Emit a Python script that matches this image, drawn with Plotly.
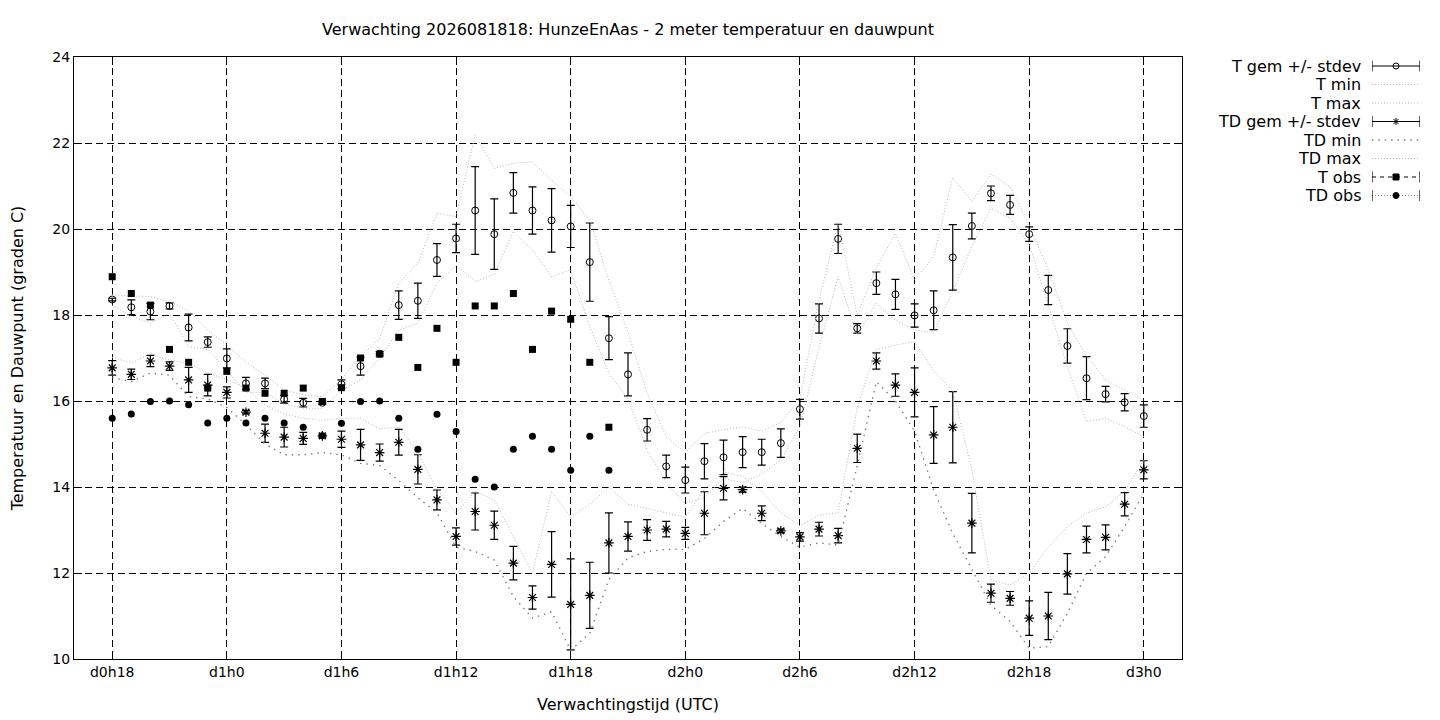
import plotly.graph_objects as go

# Forecast hours (d0h18 .. d3h0)
hours = list(range(18, 73))
tick_hours = [18, 24, 30, 36, 42, 48, 54, 60, 66, 72]
tick_labels = ["d0h18", "d1h0", "d1h6", "d1h12", "d1h18", "d2h0", "d2h6", "d2h12", "d2h18", "d3h0"]

# 2 m temperature ensemble
t_gem = [18.36, 18.18, 18.08, 18.21, 17.71, 17.37, 16.99, 16.41, 16.41, 16.04, 15.96, 15.96, 16.39, 16.81,
         17.10, 18.23, 18.33, 19.28, 19.78, 20.43, 19.88, 20.84, 20.43, 20.20, 20.06, 19.23, 17.46, 16.62,
         15.33, 14.48, 14.16, 14.60, 14.69, 14.81, 14.81, 15.02, 15.81, 17.92, 19.77, 17.69, 18.74, 18.48,
         17.99, 18.11, 19.34, 20.07, 20.83, 20.56, 19.88, 18.58, 17.28, 16.53, 16.16, 15.97, 15.65]
t_sd = [0.03, 0.17, 0.19, 0.07, 0.31, 0.12, 0.22, 0.14, 0.12, 0.09, 0.10, 0.04, 0.10, 0.21,
        0.05, 0.33, 0.41, 0.38, 0.33, 1.02, 0.82, 0.47, 0.55, 0.74, 0.49, 0.91, 0.50, 0.50,
        0.26, 0.26, 0.30, 0.41, 0.40, 0.36, 0.30, 0.33, 0.23, 0.34, 0.34, 0.11, 0.26, 0.35,
        0.27, 0.45, 0.76, 0.30, 0.17, 0.22, 0.17, 0.34, 0.40, 0.50, 0.18, 0.20, 0.26]
t_min = [18.23, 17.98, 17.81, 18.04, 17.26, 17.20, 16.70, 16.20, 16.20, 15.93, 15.83, 15.83, 16.25, 16.49,
         17.00, 17.65, 17.81, 18.74, 19.16, 18.78, 18.95, 19.94, 19.51, 18.89, 19.05, 17.73, 16.64, 16.05,
         14.86, 14.10, 13.62, 13.75, 14.20, 14.10, 14.30, 14.63, 15.40, 17.26, 18.89, 17.53, 18.27, 17.88,
         17.65, 17.60, 18.55, 19.59, 20.48, 20.25, 19.65, 18.20, 16.80, 15.52, 15.60, 15.40, 15.17]
t_max = [18.47, 18.44, 18.43, 18.31, 18.10, 17.65, 17.30, 16.91, 16.60, 16.26, 16.14, 16.10, 16.50, 17.05,
         17.45, 18.75, 19.20, 20.37, 20.29, 22.19, 21.41, 21.53, 21.56, 21.14, 20.75, 20.21, 18.81, 17.60,
         16.18, 15.17, 14.80, 15.25, 15.33, 15.40, 15.30, 15.50, 16.05, 18.35, 20.15, 18.00, 19.10, 19.90,
         18.81, 19.36, 21.20, 20.64, 21.28, 20.98, 20.10, 19.05, 17.81, 17.05, 16.49, 16.26, 16.02]

# dew point ensemble
td_gem = [16.77, 16.62, 16.93, 16.81, 16.49, 16.37, 16.20, 15.74, 15.25, 15.16, 15.13, 15.19, 15.11, 14.98,
          14.80, 15.04, 14.41, 13.70, 12.85, 13.43, 13.11, 12.23, 11.43, 12.20, 11.27, 11.48, 12.70, 12.85,
          13.00, 13.02, 12.92, 13.39, 13.97, 13.94, 13.39, 12.98, 12.84, 13.02, 12.87, 14.90, 16.93, 16.37,
          16.20, 15.21, 15.39, 13.16, 11.53, 11.41, 10.95, 11.00, 11.98, 12.78, 12.83, 13.60, 14.40]
td_sd = [0.17, 0.12, 0.13, 0.10, 0.29, 0.25, 0.13, 0.04, 0.21, 0.23, 0.14, 0.04, 0.19, 0.36,
         0.20, 0.30, 0.34, 0.23, 0.20, 0.43, 0.33, 0.39, 0.27, 0.76, 1.06, 0.77, 0.70, 0.34,
         0.24, 0.18, 0.14, 0.50, 0.27, 0.06, 0.17, 0.04, 0.10, 0.16, 0.17, 0.33, 0.19, 0.26,
         0.57, 0.66, 0.83, 0.69, 0.21, 0.16, 0.40, 0.55, 0.47, 0.31, 0.29, 0.27, 0.21]
td_min = [16.55, 16.45, 16.65, 16.60, 16.10, 16.05, 15.85, 15.45, 15.00, 14.75, 14.75, 14.80, 14.75, 14.55,
          14.50, 14.15, 13.75, 13.40, 12.60, 12.50, 12.30, 11.45, 10.95, 11.10, 10.20, 10.60, 11.85, 12.35,
          12.50, 12.55, 12.55, 12.80, 13.20, 13.50, 13.15, 12.85, 12.60, 12.70, 12.65, 14.50, 16.45, 16.00,
          15.30, 13.93, 12.92, 12.07, 11.25, 10.87, 10.25, 10.29, 11.06, 11.99, 12.38, 13.08, 13.85]
td_max = [17.02, 16.88, 17.10, 16.95, 16.88, 16.65, 16.50, 16.30, 15.90, 15.70, 15.60, 15.55, 15.60, 15.60,
          15.35, 15.40, 14.80, 13.95, 13.40, 13.90, 13.70, 12.85, 12.00, 13.90, 13.30, 13.60, 14.00, 13.60,
          13.50, 13.40, 13.30, 13.95, 14.35, 14.25, 13.90, 13.40, 13.10, 13.35, 13.40, 15.85, 17.20, 17.30,
          17.38, 16.70, 16.25, 14.40, 11.84, 11.72, 11.99, 12.61, 13.08, 13.39, 13.54, 13.90, 14.62]

# observations (available up to d1h20)
obs_hours = list(range(18, 45))
t_obs = [18.89, 18.50, 18.23, 17.20, 16.90, 16.30, 16.69, 16.30, 16.18, 16.18, 16.30, 15.99, 16.31, 17.00,
         17.09, 17.48, 16.78, 17.69, 16.90, 18.21, 18.21, 18.50, 17.20, 18.09, 17.90, 16.90, 15.39]
td_obs = [15.60, 15.70, 15.99, 16.00, 15.91, 15.49, 15.60, 15.49, 15.60, 15.49, 15.39, 15.19, 15.48, 15.99,
          16.00, 15.60, 14.88, 15.69, 15.29, 14.18, 14.00, 14.88, 15.18, 14.88, 14.39, 15.18, 14.39]

legend_names = ["T gem +/- stdev", "T min", "T max", "TD gem +/- stdev", "TD min", "TD max", "T obs", "TD obs"]

FONT = "DejaVu Sans"
LIGHT = "#b8b8b8"
DARK = "#7a7a7a"

light_dot = dict(color=LIGHT, width=1, dash="1px,2px")
dark_dot = dict(color=DARK, width=1.4, dash="1.4px,5px")

fig = go.Figure()

fig.add_trace(go.Scatter(x=hours, y=t_gem, mode="markers",
                         marker=dict(symbol="circle-open", size=7, color="black", line=dict(width=1)),
                         error_y=dict(type="data", array=t_sd, color="black", thickness=1.2, width=4)))
fig.add_trace(go.Scatter(x=hours, y=t_min, mode="lines", line=light_dot))
fig.add_trace(go.Scatter(x=hours, y=t_max, mode="lines", line=light_dot))
fig.add_trace(go.Scatter(x=hours, y=td_gem, mode="markers",
                         marker=dict(symbol="asterisk-open", size=8, color="black", line=dict(width=1.2)),
                         error_y=dict(type="data", array=td_sd, color="black", thickness=1.2, width=4)))
fig.add_trace(go.Scatter(x=hours, y=td_min, mode="lines", line=dark_dot))
fig.add_trace(go.Scatter(x=hours, y=td_max, mode="lines", line=light_dot))
fig.add_trace(go.Scatter(x=obs_hours, y=t_obs, mode="markers",
                         marker=dict(symbol="square", size=7, color="black")))
fig.add_trace(go.Scatter(x=obs_hours, y=td_obs, mode="markers",
                         marker=dict(symbol="circle", size=7, color="black")))

# gnuplot style key: text right-aligned, sample to the right (own small axis)
row_y = [9, 27.5, 46, 64.5, 83, 101.5, 120, 138.5]
sample_lines = [dict(color="black", width=1.2), light_dot, light_dot, dict(color="black", width=1.2),
                dark_dot, light_dot, dict(color="black", width=1.2, dash="4px,4px"),
                dict(color=DARK, width=1, dash="1px,2px")]
sample_marks = ["circle-open", None, None, "asterisk-open", None, None, "square", "circle"]
sample_caps = [True, False, False, True, False, False, True, True]
for name, y, ln, mk, cap in zip(legend_names, row_y, sample_lines, sample_marks, sample_caps):
    fig.add_trace(go.Scatter(x=[0, 1], y=[y, y], mode="lines", line=ln, xaxis="x2", yaxis="y2"))
    if cap:
        fig.add_trace(go.Scatter(x=[0, 1], y=[y, y], mode="markers", xaxis="x2", yaxis="y2",
                                 marker=dict(symbol="line-ns-open", size=8, color="black",
                                             line=dict(width=1.2, color="black"))))
    if mk:
        fig.add_trace(go.Scatter(x=[0.5], y=[y], mode="markers", xaxis="x2", yaxis="y2",
                                 marker=dict(symbol=mk, size=6, color="black",
                                             line=dict(width=1, color="black"))))
    fig.add_annotation(text=name, xref="paper", yref="y2", x=0.94501, y=y, xanchor="right",
                       yanchor="middle", showarrow=False, font=dict(family=FONT, size=16, color="black"))

# the page adds an 8px body margin, so the margins below are 8px smaller
fig.update_layout(
    width=1440, height=720,
    margin=dict(l=66, r=10, t=49, b=69),
    paper_bgcolor="white", plot_bgcolor="white",
    showlegend=False,
    font=dict(family=FONT, size=14, color="black"),
    title=dict(text="Verwachting 2026081818: HunzeEnAas - 2 meter temperatuur en dauwpunt",
               x=620 / 1440, xanchor="center", y=1 - 21 / 720, yanchor="middle",
               xref="container", yref="container",
               font=dict(family=FONT, size=16, color="black")),
    xaxis=dict(domain=[0, 0.81232], range=[16, 74], tickvals=tick_hours, ticktext=tick_labels,
               showline=True, linecolor="black", linewidth=1, mirror="ticks", ticks="inside",
               ticklen=8, tickcolor="black", showgrid=True, gridcolor="black", gridwidth=1,
               griddash="7px,4px", zeroline=False, tickfont=dict(size=14),
               title=dict(text="Verwachtingstijd (UTC)", standoff=20, font=dict(size=16))),
    yaxis=dict(range=[10, 24], tickvals=list(range(10, 25, 2)),
               showline=True, linecolor="black", linewidth=1, mirror="ticks", ticks="inside",
               ticklen=8, tickcolor="black", showgrid=True, gridcolor="black", gridwidth=1,
               griddash="7px,4px", zeroline=False, tickfont=dict(size=14),
               title=dict(text="Temperatuur en Dauwpunt (graden C)", standoff=24, font=dict(size=16))),
    xaxis2=dict(domain=[0.95161, 0.98680], range=[0, 1], anchor="y2", visible=False),
    yaxis2=dict(domain=[0, 1], range=[602, 0], anchor="x2", visible=False),
)

fig.write_html("out.html")
